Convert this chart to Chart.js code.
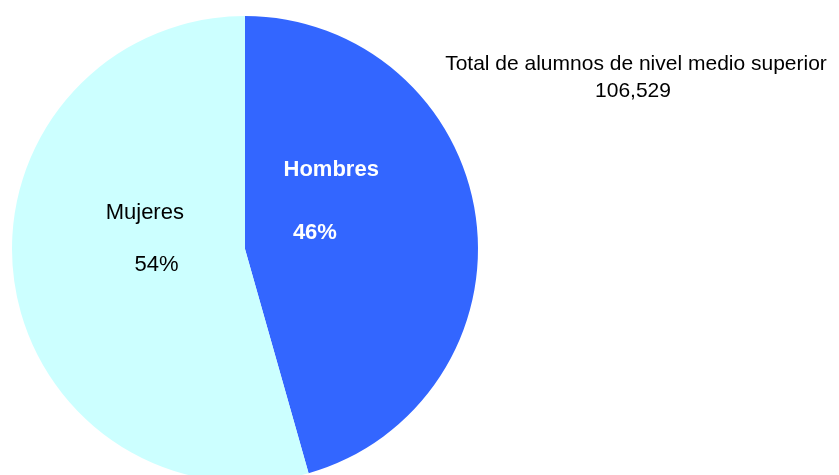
<!DOCTYPE html>
<html>
<head>
<meta charset="utf-8">
<script src="https://cdn.jsdelivr.net/npm/chart.js@4/dist/chart.umd.min.js"></script>
<style>
  html, body { margin: 0; padding: 0; background: #fff; overflow: hidden; }
  #wrap { width: 839px; height: 490px; }
</style>
</head>
<body>
<div id="wrap"><canvas id="pie"></canvas></div>
<script>
// data (slice edge sits a little short of 46%)
const categories = ['Hombres', 'Mujeres'];
const shares = [45.6, 54.4];
const pctLabels = ['46%', '54%'];
const totalTitle = 'Total de alumnos de nivel medio superior';
const totalValue = '106,529';

const FONT = '"Liberation Sans", Arial, sans-serif';

// label spots as fractions of the radius from the pie centre
const labelSpots = [
  { name: [0.37, -0.34], pct: [0.30, -0.07], color: '#ffffff', weight: 'bold' },
  { name: [-0.43, -0.155], pct: [-0.38, 0.07], color: '#000000', weight: 'normal' }
];

const sliceLabels = {
  id: 'sliceLabels',
  afterDatasetsDraw(chart) {
    const ctx = chart.ctx;
    const arcs = chart.getDatasetMeta(0).data;
    ctx.save();
    ctx.textAlign = 'center';
    ctx.textBaseline = 'middle';
    arcs.forEach((arc, i) => {
      const r = arc.outerRadius;
      const s = labelSpots[i];
      ctx.fillStyle = s.color;
      ctx.font = s.weight + ' 22px ' + FONT;
      ctx.fillText(categories[i], arc.x + s.name[0] * r, arc.y + s.name[1] * r);
      ctx.fillText(pctLabels[i], arc.x + s.pct[0] * r, arc.y + s.pct[1] * r);
    });
    // total note at the upper right
    ctx.fillStyle = '#000000';
    ctx.font = '21px ' + FONT;
    ctx.fillText(totalTitle, 636, 64);
    ctx.fillText(totalValue, 633, 91);
    ctx.restore();
  }
};

new Chart(document.getElementById('pie'), {
  type: 'pie',
  data: {
    labels: categories,
    datasets: [{
      data: shares,
      backgroundColor: ['#3366ff', '#ccffff'],
      borderWidth: 0
    }]
  },
  options: {
    responsive: true,
    maintainAspectRatio: false,
    animation: false,
    layout: { padding: { left: 12, right: 361, top: 16, bottom: 8 } },
    plugins: {
      legend: { display: false },
      tooltip: { enabled: false }
    }
  },
  plugins: [sliceLabels]
});
</script>
</body>
</html>
